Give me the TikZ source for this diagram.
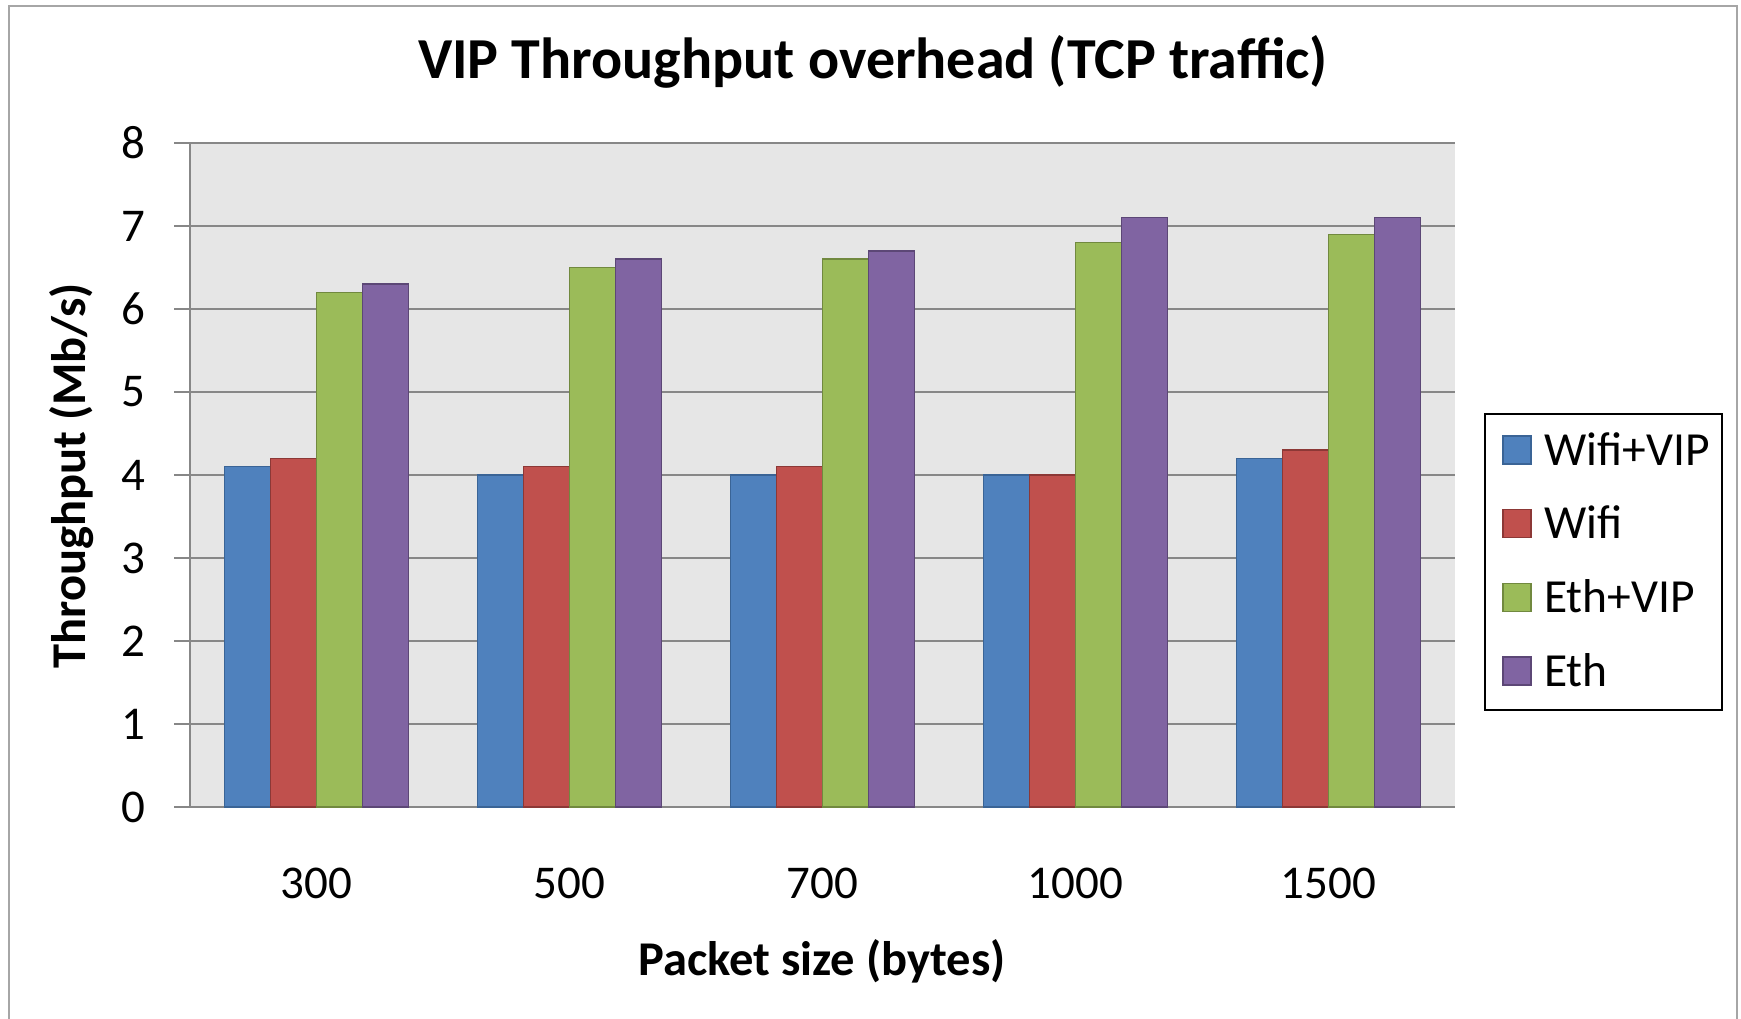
\documentclass[tikz,border=0pt]{standalone}
\usepackage{fontspec}
\setmainfont{Carlito}

% series colours (fill and outline)
\definecolor{sblue}{HTML}{4F81BD}
\definecolor{sbluedark}{HTML}{3A6496}
\definecolor{sred}{HTML}{C0504D}
\definecolor{sreddark}{HTML}{8C3836}
\definecolor{sgreen}{HTML}{9BBB59}
\definecolor{sgreendark}{HTML}{71893F}
\definecolor{spurple}{HTML}{8064A2}
\definecolor{spurpledark}{HTML}{5C4776}
\definecolor{plotbg}{HTML}{E6E6E6}
\definecolor{gridgray}{HTML}{878787}
\definecolor{framegray}{HTML}{A6A6A6}

\tikzset{
  bar/.style={fill=#1, draw=#1dark, line width=1.5},
  grid line/.style={draw=gridgray, line width=2},
  ticklabel/.style={font=\fontsize{47}{56}\selectfont, inner sep=0},
  axistitle/.style={font=\fontsize{48.5}{58}\selectfont\bfseries, inner sep=0},
  charttitle/.style={font=\fontsize{58}{70}\selectfont\bfseries, inner sep=0},
  legendtext/.style={font=\fontsize{47.5}{57}\selectfont, inner sep=0},
}

\begin{document}
\begin{tikzpicture}[x=1pt, y=-1pt]
\useasboundingbox (0,0) rectangle (1741,1019);

% outer chart frame
\draw[framegray, line width=2.5] (9,1040) -- (9,6) -- (1737,6) -- (1737,1040);

% plot area
\fill[plotbg] (190,143) rectangle (1455,807);
\foreach \v in {0,...,8}{
  \draw[grid line] (174,{807-83*\v}) -- (1455,{807-83*\v});
  \node[ticklabel, anchor=east] (ytick\v) at (146,{807-83*\v}) {\v};
}
\draw[grid line] (190,143) -- (190,807);

% bars: category index / Wifi+VIP / Wifi / Eth+VIP / Eth
\foreach \i/\a/\b/\c/\d in {0/4.1/4.2/6.2/6.3, 1/4.0/4.1/6.5/6.6, 2/4.0/4.1/6.6/6.7,
                            3/4.0/4.0/6.8/7.1, 4/4.2/4.3/6.9/7.1}{
  \foreach \val/\col [count=\k from 0] in {\a/sblue, \b/sred, \c/sgreen, \d/spurple}{
    \draw[bar=\col] ({190+253*(\i+0.5)-92+46*\k},807) rectangle ++(46,{-83*\val});
  }
}

% category labels
\foreach \cat [count=\i from 0] in {300,500,700,1000,1500}{
  \node[ticklabel, anchor=base] (xcat\i) at ({190+253*(\i+0.5)},898) {\cat};
}

% titles
\node[charttitle, anchor=base] (title) at (873,79) {VIP Throughput overhead (TCP traffic)};
\node[axistitle, anchor=base] (xtitle) at (822,975) {Packet size (bytes)};
\node[axistitle, anchor=base, rotate=90] (ytitle) at (85,476) {Throughput (Mb/s)};

% legend
\node[draw=black, line width=2, minimum width=237, minimum height=296,
      inner sep=0, anchor=north west] (legend) at (1484,413) {};
\foreach \name/\col [count=\k from 0] in {Wifi+VIP/sblue, Wifi/sred, Eth+VIP/sgreen, Eth/spurple}{
  \draw[bar=\col] (1503,{450+73.7*\k-14}) rectangle (1531,{450+73.7*\k+14});
  \node[legendtext, anchor=base west] (leg\k) at (1544,{450+73.7*\k+15}) {\name};
}
\end{tikzpicture}
\end{document}
